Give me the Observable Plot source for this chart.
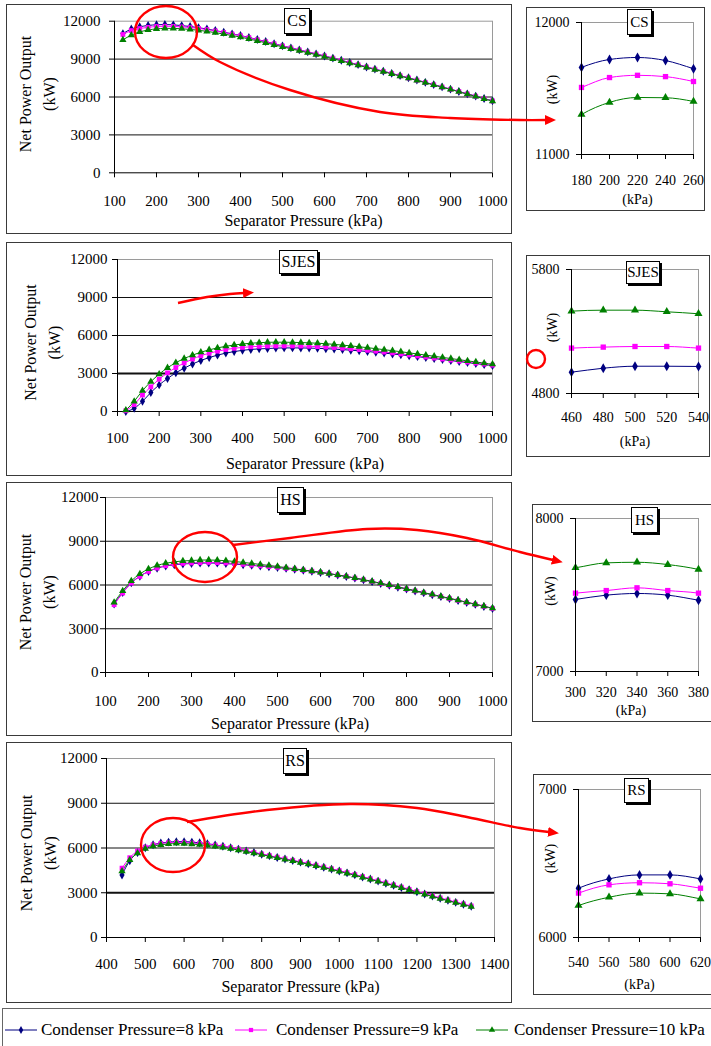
<!DOCTYPE html>
<html><head><meta charset="utf-8">
<script src="https://cdn.jsdelivr.net/npm/d3@7"></script>
<script src="https://cdn.jsdelivr.net/npm/@observablehq/plot@0.6"></script>
<style>
html,body{margin:0;padding:0;background:#fff;overflow:hidden}
#page{position:relative;width:711px;height:1046px;overflow:hidden;font-family:"Liberation Serif","Times New Roman",serif;color:#000;background:#fff}
.frame{position:absolute;box-sizing:border-box;border:1px solid #3a3a3a}
.tbox{position:absolute;box-sizing:border-box;border:1px solid #000;box-shadow:2px 2px 0 #000;background:#fff;display:flex;align-items:center;justify-content:center;line-height:1}
.chart{position:absolute}
.lgtext{position:absolute;font-size:17px;line-height:17px;white-space:nowrap}
</style></head><body><div id="page"></div>
<script>
// ---------------- data ----------------
const SERIES = ["Condenser Pressure=8 kPa", "Condenser Pressure=9 kPa", "Condenser Pressure=10 kPa"];
const COLORS = ["#000080", "#ff00ff", "#008000"];
const SYMBOLS = ["diamond", "square", "triangle"];

const pressure = [120,140,160,180,200,220,240,260,280,300,320,340,360,380,400,420,440,460,480,500,520,540,560,580,600,620,640,660,680,700,720,740,760,780,800,820,840,860,880,900,920,940,960,980,1000];
const pressureRS = [440,460,480,500,520,540,560,580,600,620,640,660,680,700,720,740,760,780,800,820,840,860,880,900,920,940,960,980,1000,1020,1040,1060,1080,1100,1120,1140,1160,1180,1200,1220,1240,1260,1280,1300,1320,1340];

const cs8  = [11020,11380,11560,11660,11720,11735,11712,11650,11580,11490,11380,11260,11130,11000,10870,10710,10550,10390,10220,10050,9890,9730,9570,9410,9250,9080,8910,8730,8560,8380,8210,8040,7870,7690,7520,7340,7160,6980,6800,6620,6440,6250,6070,5880,5700];
const cs9  = [10950,11260,11420,11508,11583,11600,11590,11553,11500,11430,11340,11230,11110,10980,10850,10695,10535,10375,10210,10040,9880,9720,9560,9400,9240,9070,8900,8720,8550,8370,8200,8030,7860,7680,7510,7330,7150,6970,6790,6610,6430,6240,6060,5870,5690];
const cs10 = [10520,10900,11150,11303,11395,11432,11430,11402,11350,11280,11195,11095,10985,10865,10740,10595,10445,10290,10130,9970,9815,9660,9505,9350,9190,9025,8860,8685,8515,8340,8170,8005,7835,7660,7490,7310,7135,6955,6775,6595,6415,6225,6045,5855,5675];

const sj8  = [0,250,800,1500,2100,2600,3050,3420,3750,4030,4260,4450,4610,4730,4830,4900,4945,4972,5004,5020,5020,5018,5005,4985,4960,4925,4885,4840,4790,4735,4675,4610,4545,4475,4405,4330,4255,4180,4100,4020,3940,3860,3780,3700,3620];
const sj9  = [60,550,1300,1950,2550,3050,3470,3830,4140,4400,4600,4760,4890,4990,5060,5110,5145,5166,5174,5179,5179,5166,5150,5125,5090,5050,5000,4950,4890,4830,4760,4690,4620,4540,4460,4380,4300,4220,4140,4060,3980,3900,3820,3740,3660];
const sj10 = [100,800,1650,2350,2950,3450,3850,4180,4450,4680,4870,5020,5150,5250,5330,5390,5430,5464,5472,5472,5459,5443,5420,5390,5350,5300,5240,5180,5110,5040,4960,4880,4800,4720,4630,4540,4450,4360,4270,4180,4090,4000,3910,3820,3730];

const hs8  = [4700,5480,6150,6600,6930,7150,7300,7390,7445,7471,7499,7510,7499,7466,7430,7390,7345,7300,7250,7200,7140,7080,7010,6940,6860,6770,6680,6580,6470,6350,6230,6100,5980,5850,5720,5590,5460,5330,5200,5070,4940,4800,4670,4530,4390];
const hs9  = [4650,5450,6130,6590,6930,7160,7320,7420,7480,7512,7529,7547,7529,7512,7470,7420,7370,7320,7265,7210,7150,7090,7020,6945,6865,6775,6685,6585,6475,6355,6235,6105,5985,5855,5725,5595,5465,5335,5205,5075,4945,4805,4675,4535,4395];
const hs10 = [4800,5600,6280,6760,7100,7340,7490,7590,7650,7678,7710,7714,7699,7667,7610,7550,7480,7410,7340,7270,7190,7110,7030,6950,6870,6780,6690,6590,6480,6370,6250,6120,6000,5870,5740,5610,5480,5350,5220,5090,4960,4820,4690,4550,4410];

const rs8  = [4195,5150,5700,6020,6220,6333,6396,6423,6423,6396,6350,6290,6210,6120,6020,5915,5805,5695,5585,5475,5365,5260,5155,5050,4940,4825,4705,4585,4460,4330,4200,4060,3920,3780,3640,3500,3355,3210,3065,2920,2775,2630,2490,2355,2225,2095];
const rs9  = [4650,5350,5800,6060,6210,6300,6356,6370,6363,6333,6300,6255,6190,6115,6025,5925,5820,5710,5600,5490,5385,5280,5175,5070,4960,4845,4725,4605,4480,4350,4220,4080,3940,3800,3660,3520,3375,3230,3085,2940,2795,2650,2510,2375,2245,2115];
const rs10 = [4450,5200,5650,5950,6120,6216,6272,6300,6295,6261,6220,6170,6110,6040,5955,5860,5760,5655,5550,5445,5340,5235,5130,5025,4915,4800,4680,4560,4435,4305,4175,4035,3895,3755,3615,3475,3330,3185,3040,2895,2750,2605,2465,2330,2200,2070];

const yTicksMain = [0,3000,6000,9000,12000];
const gridMain = [3000,6000,9000];
const xTicksMain = [100,200,300,400,500,600,700,800,900,1000];
const xTicksRS = [400,500,600,700,800,900,1000,1100,1200,1300,1400];
const csInsetX = [180,200,220,240,260], csInsetY = [11000,12000];
const sjInsetX = [460,480,500,520,540], sjInsetY = [4800,5800];
const hsInsetX = [300,320,340,360,380], hsInsetY = [7000,8000];
const rsInsetX = [540,560,580,600,620], rsInsetY = [6000,7000];

const xTitle = "Separator Pressure (kPa)";
const yTitle = "Net Power Output\n(kW)";

// ---------------- helpers ----------------
const SERIF = '"Liberation Serif","Times New Roman",serif';
const page = document.getElementById("page");
function rows(xs, a, b, c) {
  return xs.flatMap((x, i) => [
    {x, y: a[i], s: SERIES[0]}, {x, y: b[i], s: SERIES[1]}, {x, y: c[i], s: SERIES[2]}
  ]);
}
function div(cls, l, t, w, h, text, extra) {
  const d = document.createElement("div");
  d.className = cls;
  Object.assign(d.style, {left: l + "px", top: t + "px", width: w + "px", height: h + "px"}, extra || {});
  if (text) d.textContent = text;
  page.appendChild(d);
  return d;
}
function place(svg, l, t) {
  svg.classList.add("chart");
  svg.style.left = l + "px"; svg.style.top = t + "px";
  svg.style.overflow = "visible";
  page.appendChild(svg);
}
const colorScale = {domain: SERIES, range: COLORS};
const symbolScale = {domain: SERIES, range: SYMBOLS};

function mainChart(c) {
  const data = rows(c.xs, c.a, c.b, c.d);
  div("frame", c.left, c.top, c.width, c.height);
  const svg = Plot.plot({
    width: c.width, height: c.height,
    marginLeft: c.mL, marginRight: c.mR, marginTop: c.mT, marginBottom: c.mB,
    style: {fontFamily: SERIF, fontSize: "15px", color: "#000", background: "none"},
    x: {domain: c.xDomain, ticks: c.xTicks, tickSize: 5, tickPadding: c.xPad, tickFormat: d => String(d), label: null},
    y: {domain: [0, 12000], ticks: yTicksMain, tickSize: 5, tickPadding: c.yPad, tickFormat: d => String(d), label: null},
    color: colorScale, symbol: symbolScale,
    marks: [
      Plot.ruleY(gridMain, {stroke: "#111", strokeWidth: d => (c.bold3000 && d === 3000 ? 2 : 1)}),
      Plot.ruleY([12000], {stroke: "#9a9a9a"}),
      Plot.ruleX([c.xDomain[1]], {stroke: "#9a9a9a"}),
      Plot.ruleX([c.xDomain[0]], {stroke: "#000"}),
      Plot.ruleY([0], {stroke: "#000"}),
      Plot.line(data, {x: "x", y: "y", z: "s", stroke: "s", strokeWidth: 1, curve: "monotone-x"}),
      Plot.dot(data, {x: "x", y: "y", fill: "s", symbol: "s", r: 2.7, stroke: "none"}),
      Plot.text([xTitle], {text: d => d, frameAnchor: "bottom", lineAnchor: "middle", textAnchor: "middle", dx: c.xtDx || 0, dy: c.xtDy, fontSize: 16}),
      Plot.text([yTitle], {text: d => d, frameAnchor: "left", lineAnchor: "middle", textAnchor: "middle", rotate: -90, dx: c.ytDx, dy: c.ytDy, fontSize: 16, lineHeight: 1.5})
    ]
  });
  place(svg, c.left, c.top);
  div("tbox", c.box[0], c.box[1], c.box[2], c.box[3], c.name, {fontSize: "16px"});
}

function insetChart(c) {
  const [x0, x1] = [c.xTicks[0], c.xTicks[c.xTicks.length - 1]];
  const [y0, y1] = c.yTicks;
  const all = rows(c.xs, c.a, c.b, c.d);
  const lineData = all.filter(r => r.x >= x0 - 20 && r.x <= x1 + 20);
  const dotData = all.filter(r => r.x >= x0 && r.x <= x1);
  div("frame", c.left, c.top, c.width, c.height);
  const svg = Plot.plot({
    width: c.width, height: c.height,
    marginLeft: c.mL, marginRight: c.mR, marginTop: c.mT, marginBottom: c.mB,
    style: {fontFamily: SERIF, fontSize: "14px", color: "#000", background: "none"},
    x: {domain: [x0, x1], ticks: c.xTicks, tickSize: 5, tickPadding: c.xPad, tickFormat: d => String(d), label: null},
    y: {domain: [y0, y1], ticks: c.yTicks, tickSize: 5, tickPadding: 7, tickFormat: d => String(d), label: null},
    color: colorScale, symbol: symbolScale,
    marks: [
      Plot.ruleY([y1], {stroke: "#9a9a9a"}),
      Plot.ruleX([x1], {stroke: "#9a9a9a"}),
      Plot.line(lineData, {x: "x", y: "y", z: "s", stroke: "s", strokeWidth: 1, curve: "monotone-x", clip: true}),
      Plot.dot(dotData, {x: "x", y: "y", fill: "s", symbol: "s", r: 3, stroke: "none"}),
      Plot.ruleX([x0], {stroke: "#000"}),
      Plot.ruleY([y0], {stroke: "#000"}),
      Plot.text(["(kPa)"], {text: d => d, frameAnchor: "bottom", lineAnchor: "middle", textAnchor: "middle", dx: c.xtDx || 0, dy: c.xtDy, fontSize: 14}),
      Plot.text(["(kW)"], {text: d => d, frameAnchor: "left", lineAnchor: "middle", textAnchor: "middle", rotate: -90, dx: c.ytDx, dy: c.ytDy, fontSize: 14})
    ]
  });
  place(svg, c.left, c.top);
  div("tbox", c.box[0], c.box[1], c.box[2], c.box[3], c.name, {fontSize: "15px"});
}

// ---------------- panels ----------------
mainChart({name: "CS", xs: pressure, a: cs8, b: cs9, d: cs10, xDomain: [100, 1000], xTicks: xTicksMain,
  left: 6, top: 4, width: 506, height: 230, mL: 108, mR: 20, mT: 16.7, mB: 61.7,
  xPad: 17.6, yPad: 9, xtDy: 48, ytDx: -79.5, ytDy: -3, box: [284, 8, 26, 26]});
mainChart({name: "SJES", xs: pressure, a: sj8, b: sj9, d: sj10, xDomain: [100, 1000], xTicks: xTicksMain,
  left: 6, top: 242, width: 506, height: 234, mL: 111, mR: 20, mT: 17, mB: 65, bold3000: true,
  xPad: 15.6, yPad: 5, xtDy: 52, ytDx: -77.5, ytDy: 7, box: [279, 250, 39, 24]});
mainChart({name: "HS", xs: pressure, a: hs8, b: hs9, d: hs10, xDomain: [100, 1000], xTicks: xTicksMain,
  left: 6, top: 482, width: 506, height: 254, mL: 99, mR: 20, mT: 15, mB: 64,
  xPad: 17.6, yPad: 2, xtDy: 51, xtDx: -9, ytDx: -70.5, ytDy: 7, box: [277, 487, 27, 26]});
mainChart({name: "RS", xs: pressureRS, a: rs8, b: rs9, d: rs10, xDomain: [400, 1400], xTicks: xTicksRS,
  left: 6, top: 742, width: 506, height: 261, mL: 100, mR: 18, mT: 16, mB: 66, bold3000: true,
  xPad: 15.6, yPad: 4, xtDy: 49, ytDx: -70, ytDy: 5, box: [283, 748, 24, 26]});

insetChart({name: "CS", xs: pressure, a: cs8, b: cs9, d: cs10, xTicks: csInsetX, yTicks: csInsetY,
  left: 526, top: 7, width: 179, height: 204, mL: 55, mR: 12, mT: 15, mB: 57,
  xPad: 15.7, xtDy: 45, ytDx: -29, ytDy: 1, box: [627, 9, 25, 26]});
insetChart({name: "SJES", xs: pressure, a: sj8, b: sj9, d: sj10, xTicks: sjInsetX, yTicks: sjInsetY,
  left: 526, top: 255, width: 184, height: 202, mL: 45, mR: 12, mT: 14, mB: 64,
  xPad: 13.7, xtDy: 48, ytDx: -19, ytDy: -4, box: [626, 261, 34, 23]});
insetChart({name: "HS", xs: pressure, a: hs8, b: hs9, d: hs10, xTicks: hsInsetX, yTicks: hsInsetY,
  left: 532, top: 504, width: 183, height: 218, mL: 43, mR: 17, mT: 14, mB: 51,
  xPad: 10.7, xtDy: 39, xtDx: -6, ytDx: -25, ytDy: -4, box: [631, 507, 27, 26]});
insetChart({name: "RS", xs: pressureRS, a: rs8, b: rs9, d: rs10, xTicks: rsInsetX, yTicks: rsInsetY,
  left: 533, top: 774, width: 182, height: 221, mL: 45, mR: 15, mT: 15, mB: 58,
  xPad: 14.7, xtDy: 47, ytDx: -28, ytDy: -5, box: [624, 778, 25, 25]});

// ---------------- legend ----------------
div("frame", 2, 1008, 716, 42, null, {borderColor: "#666"});
const lgSwatchX = [5, 235, 476];
const lgTextX = [41, 276, 514];
const d3Sym = [d3.symbolDiamond, d3.symbolSquare, d3.symbolTriangle];
SERIES.forEach((s, i) => {
  const sw = d3.create("svg").attr("width", 32).attr("height", 14)
    .style("position", "absolute").style("left", lgSwatchX[i] + "px").style("top", "1023px");
  sw.append("line").attr("x1", 0).attr("x2", 32).attr("y1", 7).attr("y2", 7).attr("stroke", COLORS[i]).attr("stroke-width", 1);
  sw.append("path").attr("transform", "translate(16,7)").attr("d", d3.symbol(d3Sym[i], 18)()).attr("fill", COLORS[i]);
  page.appendChild(sw.node());
  const t = document.createElement("div");
  t.className = "lgtext"; t.textContent = s;
  t.style.left = lgTextX[i] + "px"; t.style.top = "1021px";
  page.appendChild(t);
});

// ---------------- red annotations (decoration) ----------------
const annoArrows = [
  [[193,45],[220,62],[290,90],[380,112],[450,118],[520,120],[546,120]],
  [[178,303],[207,297],[230,294],[244,293]],
  [[233,545],[290,538],[367,529],[417,530],[467,538],[520,552],[553,560]],
  [[187,822],[267,810],[350,804],[417,808],[467,817],[520,828],[549,832]]
];
const annoRings = [[166,32,31,26],[536,359,9,9],[205,557,32,25],[173,845,32,27]];
const ov = d3.create("svg").attr("width", 711).attr("height", 1046)
  .style("position", "absolute").style("left", 0).style("top", 0).style("pointer-events", "none");
ov.append("defs").append("marker").attr("id", "ah").attr("markerUnits", "userSpaceOnUse")
  .attr("markerWidth", 12).attr("markerHeight", 10).attr("refX", 1).attr("refY", 5).attr("orient", "auto")
  .append("path").attr("d", "M0,0L11,5L0,10Z").attr("fill", "#ff0000");
const lg = d3.line().curve(d3.curveCatmullRom);
annoArrows.forEach(p => ov.append("path").attr("d", lg(p)).attr("fill", "none").attr("stroke", "#ff0000")
  .attr("stroke-width", 2.4).attr("marker-end", "url(#ah)"));
annoRings.forEach(([cx, cy, rx, ry]) => ov.append("ellipse").attr("cx", cx).attr("cy", cy).attr("rx", rx).attr("ry", ry)
  .attr("fill", "none").attr("stroke", "#ff0000").attr("stroke-width", 2.4));
page.appendChild(ov.node());
</script></body></html>
